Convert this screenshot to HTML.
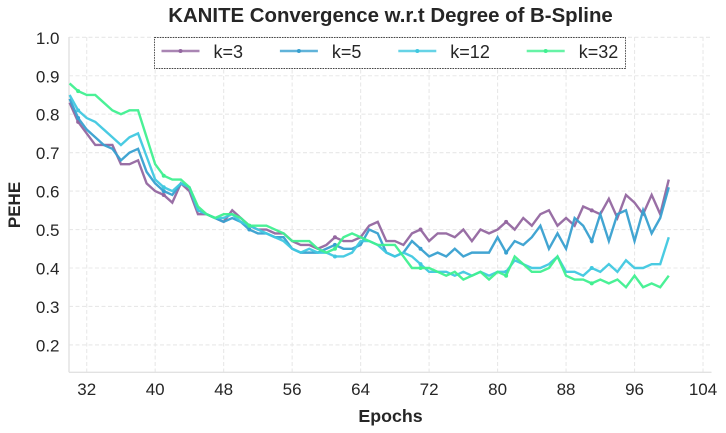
<!DOCTYPE html>
<html>
<head>
<meta charset="utf-8">
<title>KANITE Convergence</title>
<style>
html,body{margin:0;padding:0;background:#fff;width:726px;height:433px;overflow:hidden}
svg{display:block;font-family:"Liberation Sans",Arial,sans-serif}
</style>
</head>
<body>
<svg id="chart" xmlns="http://www.w3.org/2000/svg" width="726" height="433" viewBox="0 0 726 433">
<text x="390.5" y="22" font-size="20.4" font-weight="bold" fill="#262626" text-anchor="middle">KANITE Convergence w.r.t Degree of B-Spline</text>
<g id="grid"></g>
<g id="axes"></g>
<g id="series"></g>
<text x="390.5" y="422" font-size="17.8" font-weight="bold" fill="#262626" text-anchor="middle">Epochs</text>
<text transform="translate(20 205) rotate(-90)" font-size="17" font-weight="bold" fill="#262626" text-anchor="middle">PEHE</text>
<g id="legend"></g>
</svg>
<script>
const epochStart = 30;
const xTicks = [32,40,48,56,64,72,80,88,96,104];
const yTicks = [0.2,0.3,0.4,0.5,0.6,0.7,0.8,0.9,1.0];
const seriesNames = ["k=3","k=5","k=12","k=32"];
const seriesColors = ["#9467a0","#38a0d0","#40c8e0","#40f090"];
const k3 = [.83,.78,.75,.72,.72,.72,.67,.67,.68,.62,.60,.59,.57,.62,.60,.54,.54,.53,.52,.55,.53,.51,.50,.50,.49,.49,.47,.46,.46,.45,.46,.48,.47,.47,.48,.51,.52,.47,.47,.46,.49,.50,.47,.49,.49,.48,.50,.47,.50,.49,.50,.52,.50,.53,.51,.54,.55,.51,.53,.51,.56,.55,.54,.58,.53,.59,.57,.54,.59,.54,.63];
const k5 = [.84,.79,.76,.74,.72,.71,.68,.70,.71,.65,.62,.60,.59,.62,.61,.55,.54,.53,.52,.53,.52,.50,.49,.49,.48,.48,.45,.44,.44,.44,.45,.46,.45,.45,.46,.50,.49,.44,.43,.44,.47,.45,.43,.44,.43,.45,.43,.44,.44,.44,.48,.44,.47,.46,.48,.51,.45,.49,.45,.53,.51,.47,.54,.47,.54,.55,.47,.55,.49,.53,.61];
const k12 = [.85,.81,.79,.78,.76,.74,.72,.74,.75,.69,.63,.61,.60,.62,.61,.55,.54,.53,.53,.54,.52,.51,.50,.49,.48,.47,.45,.44,.45,.44,.44,.43,.43,.44,.47,.47,.46,.44,.43,.44,.43,.41,.39,.39,.39,.38,.39,.38,.39,.38,.39,.39,.42,.41,.40,.40,.41,.43,.39,.39,.38,.40,.39,.41,.39,.42,.40,.40,.41,.41,.48];
const k32 = [.88,.86,.85,.85,.83,.81,.80,.81,.81,.74,.67,.64,.63,.63,.61,.56,.54,.53,.54,.54,.53,.51,.51,.51,.50,.49,.47,.47,.47,.45,.44,.45,.48,.49,.48,.47,.46,.46,.46,.43,.40,.40,.40,.39,.38,.39,.37,.38,.39,.37,.39,.38,.43,.41,.39,.39,.40,.43,.38,.37,.37,.36,.37,.36,.37,.35,.38,.35,.36,.35,.38];
const seriesValues = [k3,k5,k12,k32];
const markerOffset = 1;
const markerEvery = 10;

const NS = "http://www.w3.org/2000/svg";
const xScale = e => 86.7 + (e - 32) * 8.56;
const yScale = v => 37.3 + (1 - v) * 384.5;
const LEFT = 69, RIGHT = 711.5, TOP = 37, BOTTOM = 372.3;

function mk(tag, attrs, parent){
  const el = document.createElementNS(NS, tag);
  for (const k in attrs) el.setAttribute(k, attrs[k]);
  parent.appendChild(el);
  return el;
}
const gridG = document.getElementById("grid");
const axesG = document.getElementById("axes");
const seriesG = document.getElementById("series");
const legendG = document.getElementById("legend");
const gridStyle = {stroke:"#e8e8e8","stroke-width":1.1,"stroke-dasharray":"4 2.5",fill:"none"};

xTicks.forEach(t => {
  const x = xScale(t);
  const line = mk("line", Object.assign({x1:x,x2:x,y1:TOP,y2:BOTTOM}, gridStyle), gridG);
  
  
  const label = mk("text", {x:x,y:395,"font-size":17,fill:"#262626","text-anchor":"middle"}, axesG);
  label.textContent = t;
  
  
});
yTicks.forEach(t => {
  const y = yScale(t);
  const line = mk("line", Object.assign({x1:LEFT,x2:RIGHT,y1:y,y2:y}, gridStyle), gridG);
  
  
  const label = mk("text", {x:59.5,y:y+6.5,"font-size":17,fill:"#262626","text-anchor":"end"}, axesG);
  label.textContent = t.toFixed(1);
  
  
});
const leftSpine = mk("line", {x1:LEFT,x2:LEFT,y1:TOP,y2:BOTTOM,stroke:"#e2e2e2","stroke-width":1.4}, axesG);


const bottomSpine = mk("line", {x1:LEFT,x2:RIGHT,y1:BOTTOM,y2:BOTTOM,stroke:"#e2e2e2","stroke-width":1.4}, axesG);



seriesValues.forEach((vals, i) => {
  const pts = vals.map((v, j) => xScale(epochStart + j).toFixed(2) + "," + yScale(v).toFixed(2)).join(" ");
  const line = mk("polyline", {points:pts,fill:"none",stroke:seriesColors[i],"stroke-width":2.4,"stroke-opacity":0.95,"stroke-linejoin":"miter"}, seriesG);
  
  
  vals.forEach((v, j) => {
    if ((j - markerOffset) % markerEvery !== 0) return;
    const dot = mk("circle", {cx:xScale(epochStart + j),cy:yScale(v),r:2,fill:seriesColors[i]}, seriesG);
    
    
  });
});

const box = mk("rect", {x:154.5,y:37.5,width:471,height:31,fill:"#fff",stroke:"#444","stroke-width":0.9,"stroke-dasharray":"1.6 1"}, legendG);


seriesNames.forEach((name, i) => {
  const x0 = 161.5 + i * 118.4 + (i === 3 ? 10 : 0);
  const ln = mk("line", {x1:x0,x2:x0+38,y1:51,y2:51,stroke:seriesColors[i],"stroke-width":2.4,"stroke-opacity":0.8}, legendG);
  
  
  const dot = mk("circle", {cx:x0+19,cy:51,r:2,fill:seriesColors[i]}, legendG);
  
  
  const label = mk("text", {x:x0+52,y:58,"font-size":18,fill:"#262626"}, legendG);
  label.textContent = name;
  
  
});
</script>
</body>
</html>
